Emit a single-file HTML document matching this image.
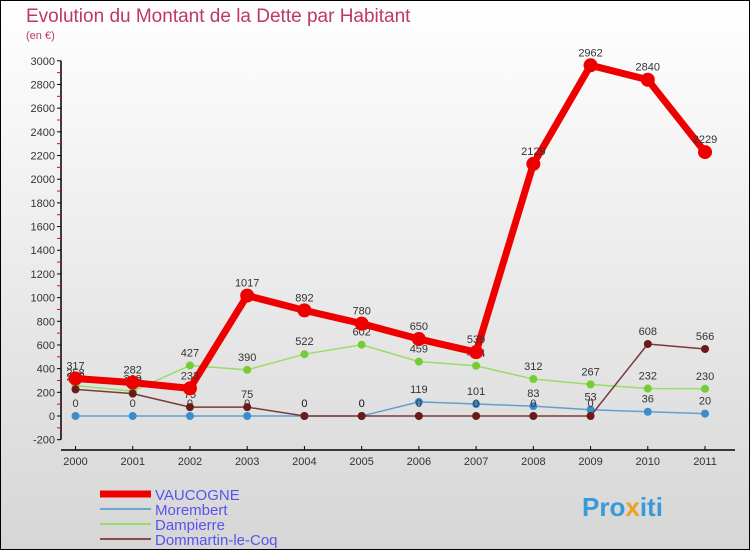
<!DOCTYPE html>
<html><head><meta charset="utf-8"><style>
body{margin:0;}
#c{width:750px;height:550px;position:relative;overflow:hidden;}
svg text{font-family:"Liberation Sans",sans-serif;}
</style></head><body>
<div id="c">
<svg id="s" width="750" height="550" xmlns="http://www.w3.org/2000/svg">
<defs><linearGradient id="bg" x1="0" y1="0" x2="0" y2="1"><stop offset="0" stop-color="#ffffff"/><stop offset="1" stop-color="#d6d6d6"/></linearGradient></defs>
<rect x="0.5" y="0.5" width="749" height="549" fill="url(#bg)" stroke="#000"/>
<text x="26" y="22" font-size="19" fill="#c0385e">Evolution du Montant de la Dette par Habitant</text>
<text x="26" y="39" font-size="11" fill="#c0385e">(en €)</text>
<g id="axes"></g><g id="series"></g><g id="legend"></g>
<text x="582" y="516" font-size="26" font-weight="bold" fill="#3a9ad9">Pro<tspan fill="#f0a020">x</tspan>iti</text>
</svg></div>
<script>
const years=["2000","2001","2002","2003","2004","2005","2006","2007","2008","2009","2010","2011"];
const yTicks=[-200,0,200,400,600,800,1000,1200,1400,1600,1800,2000,2200,2400,2600,2800,3000];
const vaucogne=[317,282,233,1017,892,780,650,539,2129,2962,2840,2229];
const morembert=[0,0,0,0,0,0,119,101,83,53,36,20];
const dampierre=[258,209,427,390,522,602,459,424,312,267,232,230];
const dommartin=[225,189,75,75,0,0,0,0,0,0,608,566];
const NS="http://www.w3.org/2000/svg";
function X(i){return 75.5+i*57.23;}
function Y(v){return 416-v*0.1184;}
function mk(t,a,p){const e=document.createElementNS(NS,t);for(const k in a)e.setAttribute(k,a[k]);p.appendChild(e);return e;}
const ax=document.getElementById('axes');
let l=mk('line',{x1:61,y1:Y(3000),x2:61,y2:Y(-200),stroke:'#000','stroke-width':1.5},ax);


l=mk('line',{x1:61,y1:450,x2:735,y2:450,stroke:'#000','stroke-width':1.5},ax);


yTicks.forEach(v=>{
 mk('line',{x1:57,y1:Y(v),x2:61,y2:Y(v),stroke:'#000'},ax);
 if(v<3000)mk('line',{x1:57,y1:Y(v+100),x2:61,y2:Y(v+100),stroke:'#e00'},ax);
 const t=mk('text',{x:55,y:Y(v)+4,'font-size':11,fill:'#333','text-anchor':'end'},ax);
 t.textContent=v;
 
 
});
years.forEach((y,i)=>{
 mk('line',{x1:X(i),y1:446,x2:X(i),y2:450,stroke:'#000'},ax);
 const t=mk('text',{x:X(i),y:465,'font-size':11,fill:'#333','text-anchor':'middle'},ax);
 t.textContent=y;
 
 
});
const sg=document.getElementById('series');
function series(data,color,w,r,name,dot){
 const g=mk('g',{},sg);
 
 
 mk('polyline',{points:data.map((v,i)=>X(i)+','+Y(v)).join(' '),fill:'none',stroke:color,'stroke-width':w,'stroke-linejoin':'round'},g);
 data.forEach((v,i)=>{
  const c=mk('circle',{cx:X(i),cy:Y(v),r:r,fill:dot||color},g);
  
  
  const t=mk('text',{x:X(i),y:Y(v)-9,'font-size':11,fill:'#333','text-anchor':'middle'},g);
  t.textContent=v;
  
  
 });
}
series(morembert,'#5fa0d0',1.5,4,'series-morembert','#3a8ccc');
series(dampierre,'#99dd66',1.5,4,'series-dampierre','#77cc33');
series(dommartin,'#7a3a3a',1.5,4,'series-dommartin','#6b1a1a');
series(vaucogne,'#ee0000',7,7,'series-vaucogne');
const lg=document.getElementById('legend');
const names=["VAUCOGNE","Morembert","Dampierre","Dommartin-le-Coq"];
const cols=['#ee0000','#6aa6d6','#99dd66','#8a4a4a'];
const ws=[7,2,2,2];
names.forEach((n,i)=>{
 const g=mk('g',{},lg);
 
 
 mk('line',{x1:100,y1:494+i*15,x2:151,y2:494+i*15,stroke:cols[i],'stroke-width':ws[i]},g);
 const t=mk('text',{x:155,y:500+i*15,'font-size':15,fill:'#5555ee'},g);
 t.textContent=n;
});
</script>
</body></html>
